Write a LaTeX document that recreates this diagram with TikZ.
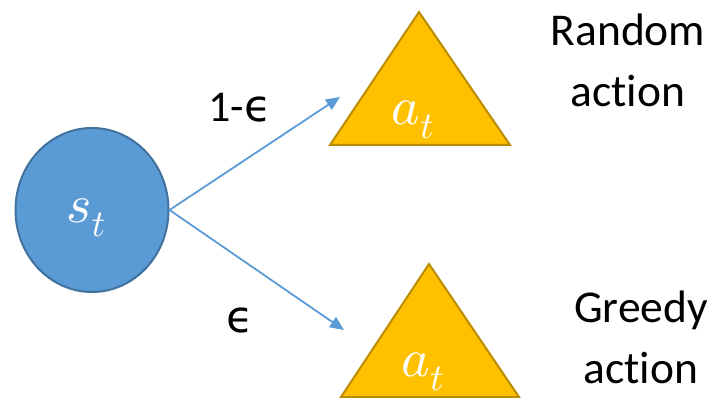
\documentclass[tikz,border=0pt]{standalone}
\usepackage{fontspec}
\setmainfont{Carlito}[Ligatures=NoCommon]
\newfontfamily\epsfont{DejaVu Sans}
\DeclareFontShape{OML}{cmm}{m}{it}{<->cmmi10}{}
\DeclareFontShape{OML}{cmm}{b}{it}{<->cmmib10}{}
\usetikzlibrary{arrows.meta,shapes.geometric}
\definecolor{cfill}{HTML}{5B9BD5}
\definecolor{cline}{HTML}{41719C}
\definecolor{tfill}{HTML}{FFC000}
\definecolor{tline}{HTML}{BC8C00}
\begin{document}
\begin{tikzpicture}[x=1pt,y=-1pt,
  statenode/.style={ellipse,draw=cline,fill=cfill,line width=2pt,minimum width=153pt,minimum height=164pt,inner sep=0pt},
  tri/.style={draw=tline,fill=tfill,line width=2pt,line join=miter},
  mathlabel/.style={text=white,inner sep=0pt,font=\fontsize{54}{54}\selectfont},
  conn/.style={draw=cfill,line width=1.8pt,-{Triangle[length=14pt,width=12pt]}},
  sidetext/.style={align=center,inner sep=0pt,font=\fontsize{45.5}{61}\selectfont},
  problabel/.style={inner sep=0pt,anchor=base,font=\fontsize{44}{44}\selectfont}]
\useasboundingbox (0,0) rectangle (718,398);
% state
\node[statenode] (s) at (92,210) {};
\node[mathlabel] (slabel) at (86,218) {$s_t$};
% triangles
\coordinate (t1a) at (419,12);
\coordinate (t1l) at (330,145);
\coordinate (t1r) at (510,145);
\path[tri] (t1a) -- (t1l) -- (t1r) -- cycle;
\coordinate (t2a) at (429,264);
\coordinate (t2l) at (341,397);
\coordinate (t2r) at (519,397);
\path[tri] (t2a) -- (t2l) -- (t2r) -- cycle;
\node[mathlabel] (a1) at (413,120) {$a_t$};
\node[mathlabel] (a2) at (423,372) {$a_t$};
% arrows
\coordinate (e1) at (340,97);
\coordinate (e2) at (344,330);
\draw[conn] (s.east) -- (e1);
\draw[conn] (s.east) -- (e2);
% probabilities
\node[problabel] (p1) at (240,122) {1-{\epsfont ϵ}};
\node[problabel] (p2) at (240,332) {{\epsfont ϵ}};
% side texts
\node[sidetext] (r) at (628,60) {Random\\action};
\node[sidetext] (g) at (641,337) {Greedy\\action};
\end{tikzpicture}
\end{document}
